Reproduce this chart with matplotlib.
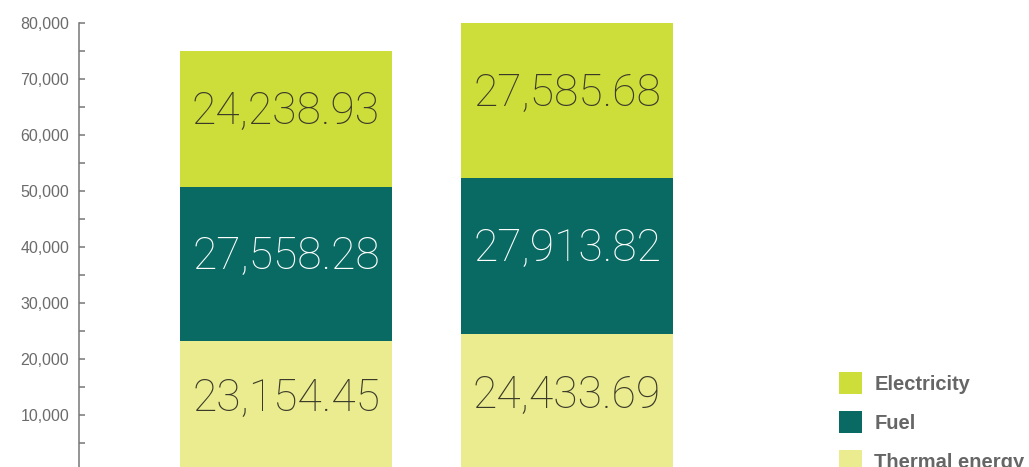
import matplotlib
matplotlib.use("Agg")
import matplotlib.pyplot as plt
from matplotlib.patches import Patch
from matplotlib.ticker import MultipleLocator, FuncFormatter

categories = ["Year 1", "Year 2"]
series_names = ["Thermal energy", "Fuel", "Electricity"]
thermal = [23154.45, 24433.69]
fuel = [27558.28, 27913.82]
electricity = [24238.93, 27585.68]
colors = {"Thermal energy": "#EBEB8F", "Fuel": "#096A63", "Electricity": "#CDDD3A"}
text_colors = {"Thermal energy": "#3a3a2a", "Fuel": "#ffffff", "Electricity": "#3a3a2a"}

W, H, DPI = 1029, 467, 100
fig = plt.figure(figsize=(W / DPI, H / DPI), dpi=DPI)
ax_left = 79 / W
ax_top = 1 - 23 / H
ax = fig.add_axes([ax_left, 0, 1 - ax_left, ax_top])

x = [0, 1]
width = 212 / 281
values = {"Thermal energy": thermal, "Fuel": fuel, "Electricity": electricity}
bottoms = [0, 0]
for name in series_names:
    vals = values[name]
    ax.bar(x, vals, width=width, bottom=bottoms, color=colors[name], linewidth=0)
    for xi, b, v in zip(x, bottoms, vals):
        ax.annotate(f"{v:,.2f}", (xi, b + v / 2), xytext=(0, 5), textcoords="offset points",
                    ha="center", va="center", fontsize=32, color=text_colors[name],
                    family=["Roboto", "DejaVu Sans"], fontweight="light")
    bottoms = [b + v for b, v in zip(bottoms, vals)]

ax.set_xlim(-(286 - 79) / 281, (1029 - 286) / 281)
ax.set_ylim(714, 80000)

for s in ["top", "right", "bottom"]:
    ax.spines[s].set_visible(False)
ax.spines["left"].set_color("#777777")
ax.spines["left"].set_linewidth(1.1)
ax.set_xticks([])
ax.yaxis.set_major_locator(MultipleLocator(10000))
ax.yaxis.set_minor_locator(MultipleLocator(5000))
ax.yaxis.set_major_formatter(FuncFormatter(lambda v, p: f"{int(v):,}"))
ax.tick_params(axis="y", which="both", direction="in", length=4.5, width=1.1, color="#777777")
ax.tick_params(axis="y", which="major", labelsize=11.5, labelcolor="#6b6b6b", pad=7)
for lbl in ax.get_yticklabels():
    lbl.set_family(["Liberation Sans", "DejaVu Sans"])

handles = [Patch(facecolor=colors[n], edgecolor="none", label=n) for n in ["Electricity", "Fuel", "Thermal energy"]]
leg = fig.legend(handles=handles, loc="upper left", bbox_to_anchor=(839 / W, 1 - 372 / H),
                 frameon=False, borderpad=0, borderaxespad=0, handlelength=1.14, handleheight=1.31,
                 handletextpad=0.62, labelspacing=0.85,
                 prop={"family": ["Liberation Sans", "DejaVu Sans"], "weight": "bold", "size": 14.5})
for t in leg.get_texts():
    t.set_color("#666666")

fig.savefig("out.png", dpi=DPI)
